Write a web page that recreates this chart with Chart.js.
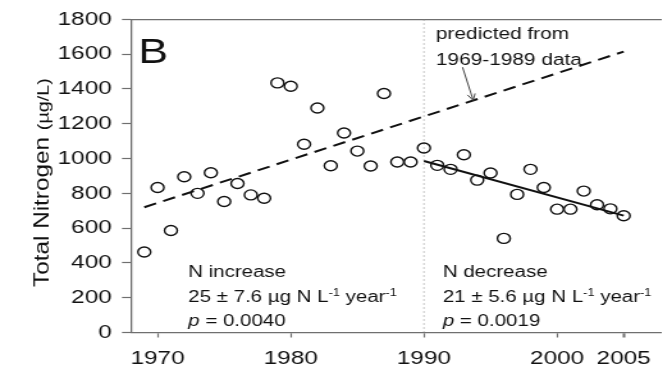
<!DOCTYPE html>
<html>
<head>
<meta charset="utf-8">
<script src="https://cdn.jsdelivr.net/npm/chart.js@4.4.1/dist/chart.umd.min.js"></script>
<style>
  html, body { margin: 0; padding: 0; background: #fff; overflow: hidden; }
  #wrap { width: 663px; height: 372px; overflow: hidden; }
  /* the figure is drawn narrow and widened, like the printed plate */
  #chart { display: block; transform: scaleX(1.28); transform-origin: 0 0; }
</style>
</head>
<body>
<div id="wrap"><canvas id="chart" width="518" height="372"></canvas></div>
<script>
// annual mean total nitrogen (ug/L)
const years = [1969, 1970, 1971, 1972, 1973, 1974, 1975, 1976, 1977, 1978,
               1979, 1980, 1981, 1982, 1983, 1984, 1985, 1986, 1987, 1988,
               1989, 1990, 1991, 1992, 1993, 1994, 1995, 1996, 1997, 1998,
               1999, 2000, 2001, 2002, 2003, 2004, 2005];
const totalN = [463, 834, 586, 895, 800, 918, 753, 857, 791, 772,
                1435, 1416, 1082, 1291, 959, 1147, 1043, 957, 1374, 980,
                980, 1061, 961, 938, 1022, 876, 917, 541, 794, 938,
                834, 709, 709, 813, 734, 711, 671];

// fitted trends: 1969-1989 fit carried forward, and the post-1990 decline
const earlyFitYears = [1969, 2005];
const earlyFitN = [720, 1615];
const lateFitYears = [1990, 2005];
const lateFitN = [986, 672];
const breakYear = 1990;

const xTicks = [1970, 1980, 1990, 2000, 2005];
const yTicks = [0, 200, 400, 600, 800, 1000, 1200, 1400, 1600, 1800];

const FONT = "'Liberation Sans', Arial, Helvetica, sans-serif";
const INK = '#111';
const AXIS = '#6f6f6f';

Chart.defaults.font.family = FONT;
Chart.defaults.color = INK;

function toXY(xs, ys) {
  return xs.map((x, i) => ({ x: x, y: ys[i] }));
}

// text runs: each piece can be smaller / raised / italic
function drawRuns(ctx, x, y, runs) {
  let cx = x;
  runs.forEach(r => {
    ctx.font = (r.italic ? 'italic ' : '') + r.size + 'px ' + FONT;
    ctx.fillText(r.t, cx, y - (r.rise || 0));
    cx += ctx.measureText(r.t).width;
  });
}

const notesPlugin = {
  id: 'notes',
  afterDatasetsDraw(chart) {
    const ctx = chart.ctx;
    const xs = chart.scales.x, ys = chart.scales.y;
    const px = v => xs.getPixelForValue(v);
    const py = v => ys.getPixelForValue(v);
    ctx.save();
    ctx.fillStyle = INK;
    ctx.textBaseline = 'alphabetic';
    ctx.textAlign = 'left';

    ctx.font = '35px ' + FONT;
    ctx.fillText('B', px(1968.55), py(1552));

    ctx.font = '16.3px ' + FONT;
    ctx.fillText('predicted from', px(1990.9), py(1685));
    ctx.fillText('1969-1989 data', px(1990.9), py(1539));

    // arrow to the carried-forward line
    const ax0 = px(1992.9), ay0 = py(1525);
    const ax1 = px(1993.7), ay1 = py(1335);
    ctx.strokeStyle = '#444';
    ctx.lineWidth = 1;
    ctx.beginPath();
    ctx.moveTo(ax0, ay0);
    ctx.lineTo(ax1, ay1);
    const ang = Math.atan2(ay1 - ay0, ax1 - ax0);
    const hl = 7;
    ctx.moveTo(ax1 - hl * Math.cos(ang - 0.45), ay1 - hl * Math.sin(ang - 0.45));
    ctx.lineTo(ax1, ay1);
    ctx.lineTo(ax1 - hl * Math.cos(ang + 0.45), ay1 - hl * Math.sin(ang + 0.45));
    ctx.stroke();

    const s = 16, sup = 10, rise = 6;
    const blocks = [
      { x: 1972.3, lines: [
        [{ t: 'N increase', size: s }],
        [{ t: '25 \u00b1 7.6 \u00b5g N L', size: s }, { t: '-1', size: sup, rise: rise },
         { t: ' year', size: s }, { t: '-1', size: sup, rise: rise }],
        [{ t: 'p', size: s, italic: true }, { t: ' = 0.0040', size: s }]
      ] },
      { x: 1991.42, lines: [
        [{ t: 'N decrease', size: s }],
        [{ t: '21 \u00b1 5.6 \u00b5g N L', size: s }, { t: '-1', size: sup, rise: rise },
         { t: ' year', size: s }, { t: '-1', size: sup, rise: rise }],
        [{ t: 'p', size: s, italic: true }, { t: ' = 0.0019', size: s }]
      ] }
    ];
    const baseVals = [320, 178, 40];
    blocks.forEach(b => {
      b.lines.forEach((runs, i) => drawRuns(ctx, px(b.x), py(baseVals[i]), runs));
    });
    ctx.restore();
  },
  afterDraw(chart) {
    // vertical axis title, set in two sizes
    const ctx = chart.ctx;
    ctx.save();
    ctx.fillStyle = INK;
    ctx.textBaseline = 'alphabetic';
    ctx.textAlign = 'left';
    ctx.translate(37.5, 287);
    ctx.rotate(-Math.PI / 2);
    ctx.scale(1.52, 1);
    ctx.font = '16px ' + FONT;
    const main = 'Total Nitrogen ';
    ctx.fillText(main, 0, 0);
    const w = ctx.measureText(main).width;
    ctx.font = '13px ' + FONT;
    ctx.fillText('(\u00b5g/L)', w, 0);
    ctx.restore();
  }
};

new Chart(document.getElementById('chart'), {
  type: 'scatter',
  data: {
    datasets: [
      {
        label: 'TN',
        data: toXY(years, totalN),
        pointStyle: 'circle',
        pointRadius: 5,
        pointBorderWidth: 1.4,
        borderColor: INK,
        backgroundColor: 'rgba(0,0,0,0)',
        showLine: false
      },
      {
        label: '1969-1989 fit',
        data: toXY(earlyFitYears, earlyFitN),
        showLine: true,
        borderColor: INK,
        borderWidth: 2,
        borderDash: [10, 6],
        pointRadius: 0
      },
      {
        label: '1990-2005 fit',
        data: toXY(lateFitYears, lateFitN),
        showLine: true,
        borderColor: INK,
        borderWidth: 2,
        pointRadius: 0
      },
      {
        label: 'break',
        data: [{ x: breakYear, y: 0 }, { x: breakYear, y: 1800 }],
        showLine: true,
        borderColor: '#8a8a8a',
        borderWidth: 1,
        borderDash: [1, 3],
        pointRadius: 0
      }
    ]
  },
  options: {
    responsive: false,
    animation: false,
    devicePixelRatio: 1,
    layout: { autoPadding: false, padding: { top: 15.7, left: 0, right: 0, bottom: 0 } },
    plugins: { legend: { display: false }, tooltip: { enabled: false } },
    scales: {
      x: {
        type: 'linear',
        position: 'bottom',
        min: 1968,
        max: 2007.8,
        afterBuildTicks: sc => { sc.ticks = xTicks.map(v => ({ value: v })); },
        afterFit: sc => { sc.height = 39.5; },
        ticks: {
          color: INK,
          font: { size: 19 },
          padding: 9.5,
          autoSkip: false,
          maxRotation: 0,
          callback: v => String(v)
        },
        grid: {
          drawOnChartArea: false,
          tickLength: 5,
          tickColor: AXIS,
          tickWidth: ctx => (ctx.tick && ctx.tick.value === 2005 ? 2 : 1.2)
        },
        border: { color: AXIS, width: 1.3 }
      },
      xTop: {
        type: 'linear',
        position: 'top',
        min: 1968,
        max: 2007.8,
        afterFit: sc => { sc.height = 0; },
        ticks: { display: false },
        grid: { drawOnChartArea: false, drawTicks: false },
        border: { color: AXIS, width: 1.3 }
      },
      y: {
        min: 0,
        max: 1800,
        afterBuildTicks: sc => { sc.ticks = yTicks.map(v => ({ value: v })); },
        afterFit: sc => { sc.width = 102.3; },
        ticks: {
          color: INK,
          font: { size: 19 },
          padding: 8,
          callback: v => String(v)
        },
        grid: { drawOnChartArea: false, tickLength: 7, tickColor: AXIS, tickWidth: 1.2 },
        border: { color: AXIS, width: 1.3 }
      }
    }
  },
  plugins: [notesPlugin]
});
</script>
</body>
</html>
